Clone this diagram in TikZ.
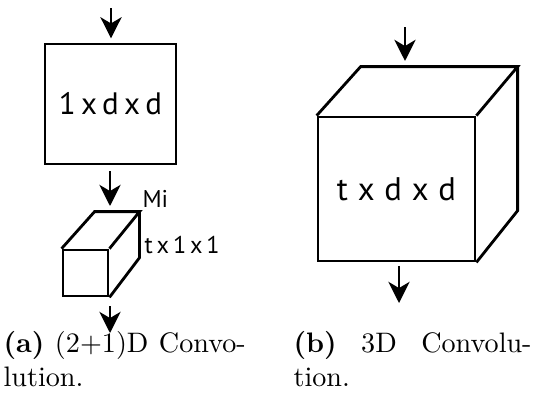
\documentclass[tikz,border=0pt]{standalone}
\usepackage{fontspec}
\newfontfamily\labelfont{PT Sans}
\usepackage{tikz}
\usetikzlibrary{arrows.meta, positioning, calc}

\begin{document}
\begin{tikzpicture}[
			x=0.355pt, y=-0.355pt,
			box/.style={draw, line width=1pt, inner sep=0pt},
			edge/.style={line width=1pt},
			arr/.style={line width=1pt, -{Stealth[length=7.5pt,width=7.5pt,inset=2.2pt]}},
			lbl/.style={font=\labelfont\fontsize{11}{12}\selectfont},
			captext/.style={anchor=north west, inner sep=0pt, text width=86pt, align=left}
			]
			\useasboundingbox (0,0) rectangle (537,419);
			
			% (a) factorised convolution
			\node[box, lbl, minimum width=46.5pt, minimum height=42.6pt] (sq) at (110.5,104) {\spaceskip=0.17em\relax 1 x d x d};
			\node[box, minimum width=16pt, minimum height=16.3pt] (small) at (85.5,273) {};
			\draw[edge] (small.north west) -- ++(33,-37) coordinate (smallbl) -- ++(45,0) coordinate (smallbr) -- (small.north east);
			\draw[edge] (smallbr) -- ++(0,46) -- (small.south east);
			\node[anchor=base west, inner sep=0pt, font=\labelfont\fontsize{8.6}{9}\selectfont] (mi) at (142,207) {Mi};
			\node[anchor=base west, inner sep=0pt, font=\labelfont\fontsize{8.6}{9}\selectfont] (dims) at (144,253) {\spaceskip=0.16em\relax t x 1 x 1};
			
			\coordinate (ain) at (111,8);
			\coordinate (aout) at (110,333);
			\coordinate (amid) at (110,306);
			\draw[arr] (ain) -- ([yshift=1.5pt]sq.north -| ain);
			\draw[arr] ([yshift=-2pt]sq.south -| amid) -- ([yshift=2pt]smallbl -| amid);
			\draw[arr] (amid) -- (aout);
			
			% (b) full 3D convolution
			\node[box, lbl, font=\labelfont\fontsize{11.6}{13}\selectfont, minimum width=55.7pt, minimum height=51.1pt] (big) at (396.5,189) {\spaceskip=0.3em\relax t x d x d};
			\draw[edge] (big.north west) -- ++(44,-49) coordinate (bigbl) -- ++(157,0) coordinate (bigbr) -- (big.north east);
			\draw[edge] (bigbr) -- ++(0,144) -- (big.south east);
			
			\coordinate (bin) at (405,27);
			\coordinate (bout) at (399,303);
			\draw[arr] (bin) -- ([yshift=2pt]bigbl -| bin);
			\draw[arr] ([yshift=-1.2pt]big.south -| bout) -- (bout);
			
			% captions
			\node[captext] (capa) at (3,331) {\textbf{(a)}\hfill(2+1)D\hfill Convo-\\lution.};
			\node[captext, text width=84.5pt] (capb) at (293,331) {\textbf{(b)}\hfill 3D\hfill Convolu-\\tion.};
		\end{tikzpicture}
\end{document}
